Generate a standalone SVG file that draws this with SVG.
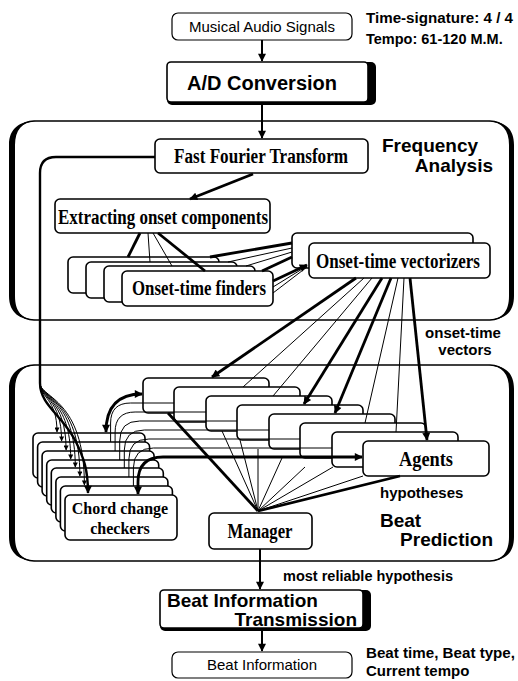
<svg xmlns="http://www.w3.org/2000/svg" width="518" height="681" viewBox="0 0 518 681">
<style>
.box{fill:#fff;stroke:#000;stroke-width:1.6}
.cont{fill:none;stroke:#000;stroke-width:1.3}
.thk{fill:none;stroke:#000;stroke-width:2.8}
.thn{fill:none;stroke:#000;stroke-width:1}
.ser{font-family:"Liberation Serif","Times New Roman",serif;font-weight:bold;font-size:20px;text-anchor:middle}
.sb{font-family:"Liberation Sans",Arial,sans-serif;font-weight:bold}
.sr{font-family:"Liberation Sans",Arial,sans-serif}
</style>
<defs>
<marker id="ah" viewBox="0 0 10 10" refX="9" refY="5" markerWidth="11" markerHeight="8" markerUnits="userSpaceOnUse" orient="auto-start-reverse"><path d="M0,0 L10,5 L0,10 z"/></marker>
<marker id="as" viewBox="0 0 10 10" refX="9" refY="5" markerWidth="7" markerHeight="5" markerUnits="userSpaceOnUse" orient="auto"><path d="M0,0 L10,5 L0,10 z"/></marker>
</defs>

<g id="frequency-analysis">
<rect class="cont" x="12" y="121" width="500" height="199" rx="22"/>
<path d="M36 121 C20 121 9 128 9 145 V296 C9 313 20 320 36 320 C22 319 15 312 15 296 V145 C15 130 22 122 36 121 Z"/>
<path d="M488 121 C504 121 514 128 514 145 V296 C514 313 504 320 488 320 C502 319 509 312 509 296 V145 C509 130 502 122 488 121 Z"/>
<text class="sb" x="382" y="152" font-size="19">Frequency</text>
<text class="sb" x="493" y="172" font-size="19" text-anchor="end">Analysis</text>
</g>
<g id="beat-prediction">
<rect class="cont" x="12" y="365" width="500" height="196" rx="22"/>
<path d="M36 365 C20 365 9 372 9 389 V537 C9 554 20 561 36 561 C22 560 15 553 15 537 V389 C15 374 22 366 36 365 Z"/>
<path d="M488 365 C504 365 514 372 514 389 V537 C514 554 504 561 488 561 C502 560 509 553 509 537 V389 C509 374 502 366 488 365 Z"/>
<text class="sb" x="380" y="527" font-size="19">Beat</text>
<text class="sb" x="493" y="546" font-size="19" text-anchor="end">Prediction</text>
</g>

<g id="musical-audio-signals">
<rect class="box" x="172" y="13" width="180" height="27" rx="6" style="stroke-width:1.2"/>
<text class="sr" x="262" y="32" font-size="15" text-anchor="middle">Musical Audio Signals</text>
</g>
<text class="sb" x="366" y="23" font-size="14.5" textLength="147" lengthAdjust="spacingAndGlyphs">Time-signature: 4 / 4</text>
<text class="sb" x="366" y="44" font-size="14.5">Tempo: 61-120 M.M.</text>

<g id="ad-conversion">
<rect x="167" y="62" width="209" height="43" rx="5"/>
<rect class="box" x="167" y="62" width="201" height="40" rx="4"/>
<text class="sb" x="262" y="90" font-size="20" text-anchor="middle">A/D Conversion</text>
</g>

<g id="fft">
<rect class="box" x="155" y="139" width="213" height="34" rx="5"/>
<text class="ser" x="261" y="163" textLength="174" lengthAdjust="spacingAndGlyphs">Fast Fourier Transform</text>
</g>
<g id="extracting">
<rect class="box" x="55" y="199" width="215" height="34" rx="5"/>
<text class="ser" x="163" y="224" textLength="210" lengthAdjust="spacingAndGlyphs">Extracting onset components</text>
</g>
<g id="onset-time-finders">
<rect class="box" x="68" y="257" width="151" height="36" rx="5"/>
<rect class="box" x="86" y="262" width="151" height="36" rx="5"/>
<rect class="box" x="104" y="266" width="151" height="36" rx="5"/>
<rect class="box" x="122" y="271" width="151" height="35" rx="5"/>
<text class="ser" x="199" y="295" textLength="134" lengthAdjust="spacingAndGlyphs">Onset-time finders</text>
</g>
<g id="onset-time-vectorizers">
<rect class="box" x="292" y="233" width="181" height="35" rx="5"/>
<rect class="box" x="309" y="243" width="181" height="35" rx="5"/>
<text class="ser" x="398" y="268" textLength="164" lengthAdjust="spacingAndGlyphs">Onset-time vectorizers</text>
</g>
<text class="sb" x="463" y="338" font-size="15" text-anchor="middle">onset-time</text>
<text class="sb" x="465" y="355" font-size="15" text-anchor="middle">vectors</text>

<g id="agents">
<rect class="box" x="143" y="378" width="126" height="35" rx="5"/>
<rect class="box" x="174" y="387" width="126" height="35" rx="5"/>
<rect class="box" x="206" y="396" width="126" height="35" rx="5"/>
<rect class="box" x="237" y="405" width="126" height="35" rx="5"/>
<rect class="box" x="269" y="414" width="126" height="35" rx="5"/>
<rect class="box" x="300" y="423" width="126" height="35" rx="5"/>
<rect class="box" x="332" y="432" width="126" height="35" rx="5"/>
<rect class="box" x="363" y="441" width="126" height="35" rx="5"/>
<text class="ser" x="426" y="466" textLength="54" lengthAdjust="spacingAndGlyphs">Agents</text>
</g>
<g id="chord-change-checkers">
<rect class="box" x="33" y="433" width="112" height="45" rx="5"/>
<rect class="box" x="37.6" y="442" width="112" height="45" rx="5"/>
<rect class="box" x="42.1" y="451" width="112" height="45" rx="5"/>
<rect class="box" x="46.7" y="460" width="112" height="45" rx="5"/>
<rect class="box" x="51.3" y="468" width="112" height="45" rx="5"/>
<rect class="box" x="55.9" y="477" width="112" height="45" rx="5"/>
<rect class="box" x="60.4" y="486" width="112" height="45" rx="5"/>
<rect class="box" x="65" y="495" width="112" height="45" rx="5"/>
<text class="ser" style="font-size:16px"><tspan x="120" y="514">Chord change</tspan><tspan x="120" y="534">checkers</tspan></text>
</g>
<g id="manager">
<rect class="box" x="209" y="513" width="103" height="36" rx="5"/>
<text class="ser" x="260" y="538" textLength="65" lengthAdjust="spacingAndGlyphs">Manager</text>
</g>
<text class="sb" x="380" y="498" font-size="15">hypotheses</text>
<text class="sb" x="283" y="581" font-size="14.5">most reliable hypothesis</text>

<g id="beat-info-transmission">
<rect x="160" y="590" width="211" height="41" rx="5"/>
<rect class="box" x="160" y="590" width="203" height="38" rx="4"/>
<text class="sb" x="167" y="607" font-size="19">Beat Information</text>
<text class="sb" x="357" y="626" font-size="19" text-anchor="end">Transmission</text>
</g>
<g id="beat-information">
<rect class="box" x="172" y="652" width="180" height="26" rx="6" style="stroke-width:1.2"/>
<text class="sr" x="262" y="670" font-size="15" text-anchor="middle">Beat Information</text>
</g>
<text class="sb" x="366" y="658" font-size="15" textLength="149" lengthAdjust="spacingAndGlyphs">Beat time, Beat type,</text>
<text class="sb" x="366" y="676" font-size="15">Current tempo</text>

<g id="connectors">
<path class="thk" d="M262 40 V61" marker-end="url(#ah)" style="stroke-width:2"/>
<path class="thk" d="M262 105 V138" marker-end="url(#ah)" style="stroke-width:2"/>
<path class="thk" d="M253 174 L190 199" marker-end="url(#ah)"/>
<path class="thk" d="M140 233 L128 257"/>
<path class="thn" d="M148 233 L150 262"/>
<path class="thn" d="M153 233 L172 266"/>
<path class="thk" d="M158 233 L205 271"/>
<path class="thk" d="M210 257 L292 243"/>
<path class="thn" d="M228 262 L292 248"/>
<path class="thn" d="M246 266 L292 252"/>
<path class="thk" d="M262 271 L292 257"/>
<path class="thk" d="M273 281 L307 265" marker-end="url(#ah)"/>
<path class="thn" d="M273 287 L307 266"/>
<path class="thn" d="M273 293 L307 267"/>
<path class="thk" d="M356 278 L212 377" marker-end="url(#ah)"/>
<path class="thn" d="M364 278 L243 387"/>
<path class="thn" d="M372 278 L273 396"/>
<path class="thk" d="M382 278 L304 404" marker-end="url(#ah)"/>
<path class="thk" d="M391 278 L335 413" marker-end="url(#ah)"/>
<path class="thn" d="M398 278 L365 423"/>
<path class="thn" d="M404 278 L396 432"/>
<path class="thk" d="M410 278 L427 440" marker-end="url(#ah)"/>
<path class="thk" d="M155 157 H56 Q40 157 40 173 V383 C40 405 62 415 75 440 C84 458 88 470 88 493" marker-end="url(#ah)" style="stroke-width:2.4"/>
<path class="thn" d="M40 383 C40 398 57 398 57 432" marker-end="url(#as)"/>
<path class="thn" d="M40 383 C40 398 61.6 398 61.6 441" marker-end="url(#as)"/>
<path class="thn" d="M40 383 C40 398 66.1 398 66.1 450" marker-end="url(#as)"/>
<path class="thn" d="M40 383 C40 398 70.7 398 70.7 459" marker-end="url(#as)"/>
<path class="thn" d="M40 383 C40 398 75.3 398 75.3 467" marker-end="url(#as)"/>
<path class="thn" d="M40 383 C40 398 79.9 398 79.9 476" marker-end="url(#as)"/>
<path class="thn" d="M40 383 C40 398 84.4 398 84.4 485" marker-end="url(#as)"/>
<path class="thk" d="M106 432 Q106 394 142 394" marker-start="url(#ah)" marker-end="url(#ah)"/>
<path class="thn" d="M110.6 442 V423 Q110.6 403 130.6 403 H174"/>
<path class="thn" d="M115.1 451 V432 Q115.1 412 135.1 412 H206"/>
<path class="thn" d="M119.7 460 V441 Q119.7 421 139.7 421 H237"/>
<path class="thn" d="M124.3 468 V450 Q124.3 430 144.3 430 H269"/>
<path class="thn" d="M128.9 477 V459 Q128.9 439 148.9 439 H300"/>
<path class="thn" d="M133.4 486 V468 Q133.4 448 153.4 448 H332"/>
<path class="thk" d="M138 494 V482 Q138 457 163 457 H362" marker-start="url(#ah)" marker-end="url(#ah)"/>
<path class="thk" d="M168 413 L258 511"/>
<path class="thn" d="M222 431 L258 511"/>
<path class="thn" d="M240 440 L258 511"/>
<path class="thn" d="M258 449 L258 511"/>
<path class="thn" d="M282 458 L258 511"/>
<path class="thn" d="M305 467 L258 511"/>
<path class="thn" d="M333 467 L258 511"/>
<path class="thn" d="M363 476 L258 511"/>
<path class="thk" d="M400 476 L258 511"/>
<path class="thk" d="M260 549 V589" marker-end="url(#ah)" style="stroke-width:2"/>
<path class="thk" d="M262 631 V651" marker-end="url(#ah)" style="stroke-width:2"/>
</g>
</svg>
